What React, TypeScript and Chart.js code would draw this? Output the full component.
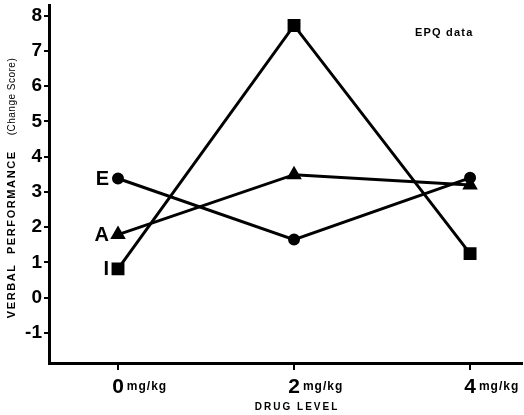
import React, { useEffect, useRef } from "react";
import { Chart, registerables } from "chart.js";

Chart.register(...registerables);

// Drug dose levels (mg/kg) and change scores for the three EPQ groups
const doses = [0, 2, 4];
const scoresI = [0.82, 7.72, 1.25];
const scoresE = [3.38, 1.65, 3.4];
const scoresA = [1.79, 3.49, 3.2];
const seriesNames = ["I", "E", "A"];
const yTickValues = [-1, 0, 1, 2, 3, 4, 5, 6, 7, 8];
const xTickValues = [0, 2, 4];
const unitLabel = "mg/kg";
const yTitleMain = "VERBAL  PERFORMANCE";
const yTitleSub = "(Change Score)";
const xTitle = "DRUG LEVEL";
const noteText = "EPQ data";

const FONT = "'Liberation Sans', Arial, Helvetica, sans-serif";
const X_TICK_LEN = 7;
const X_TICK_PAD = 5;

const annotations = {
  id: "annotations",
  afterDraw(chart: any) {
    const ctx = chart.ctx as CanvasRenderingContext2D;
    const area = chart.chartArea;
    const xs = chart.scales.x;
    ctx.save();
    ctx.fillStyle = "#000";

    // unit suffix after each dose digit
    const digitTop = area.bottom + X_TICK_LEN + X_TICK_PAD;
    ctx.textBaseline = "alphabetic";
    xTickValues.forEach((v) => {
      const px = xs.getPixelForValue(v);
      ctx.font = `bold 21px ${FONT}`;
      (ctx as any).letterSpacing = "0px";
      const w = ctx.measureText(String(v)).width;
      ctx.font = `bold 12px ${FONT}`;
      (ctx as any).letterSpacing = "1px";
      ctx.textAlign = "left";
      ctx.fillText(unitLabel, px + w / 2 + 3, digitTop + 15);
    });

    // x axis title
    ctx.font = `bold 10px ${FONT}`;
    (ctx as any).letterSpacing = "2px";
    ctx.textAlign = "center";
    ctx.textBaseline = "middle";
    ctx.fillText(xTitle, xs.getPixelForValue(2) + 3, 407);

    // note in upper right
    ctx.font = `bold 11px ${FONT}`;
    (ctx as any).letterSpacing = "1.2px";
    ctx.textAlign = "left";
    ctx.fillText(noteText, 415, 33);

    // rotated y axis title
    ctx.save();
    ctx.translate(12, 188);
    ctx.rotate(-Math.PI / 2);
    ctx.textBaseline = "middle";
    ctx.font = `bold 11px ${FONT}`;
    (ctx as any).letterSpacing = "1.6px";
    const wMain = ctx.measureText(yTitleMain).width;
    ctx.font = `10px ${FONT}`;
    (ctx as any).letterSpacing = "0.5px";
    const wSub = ctx.measureText(yTitleSub).width;
    const gap = 15;
    const total = wMain + gap + wSub;
    let sx = -total / 2;
    ctx.textAlign = "left";
    ctx.font = `bold 11px ${FONT}`;
    (ctx as any).letterSpacing = "1.6px";
    ctx.fillText(yTitleMain, sx, 0);
    sx += wMain + gap;
    ctx.font = `10px ${FONT}`;
    (ctx as any).letterSpacing = "0.5px";
    ctx.fillText(yTitleSub, sx, 0);
    ctx.restore();

    // series letters beside the first point of each line
    (ctx as any).letterSpacing = "0px";
    ctx.font = `bold 20px ${FONT}`;
    ctx.textAlign = "right";
    ctx.textBaseline = "middle";
    seriesNames.forEach((name, i) => {
      const pt = chart.getDatasetMeta(i).data[0];
      ctx.fillText(name, pt.x - 9, pt.y + 1);
    });
    ctx.restore();
  },
};

export default function App() {
  const canvasRef = useRef<HTMLCanvasElement | null>(null);

  useEffect(() => {
    if (!canvasRef.current) return;
    const toPoints = (vals: number[]) => doses.map((d, i) => ({ x: d, y: vals[i] }));
    const base = {
      borderColor: "#000",
      backgroundColor: "#000",
      pointBorderColor: "#000",
      pointBackgroundColor: "#000",
      borderWidth: 3,
      tension: 0,
    };
    const chart = new Chart(canvasRef.current, {
      type: "line",
      data: {
        datasets: [
          { ...base, label: seriesNames[0], data: toPoints(scoresI), pointStyle: "rect", pointRadius: 7 },
          { ...base, label: seriesNames[1], data: toPoints(scoresE), pointStyle: "circle", pointRadius: 4.5 },
          { ...base, label: seriesNames[2], data: toPoints(scoresA), pointStyle: "triangle", pointRadius: 6 },
        ],
      },
      options: {
        responsive: false,
        animation: false,
        layout: { autoPadding: false, padding: { top: 5, right: 2, left: 0, bottom: 0 } },
        plugins: { legend: { display: false }, tooltip: { enabled: false } },
        scales: {
          x: {
            type: "linear",
            min: -0.784,
            max: 4.59,
            afterFit: (s: any) => {
              s.height = 52;
              s.paddingLeft = 0;
              s.paddingRight = 0;
            },
            afterBuildTicks: (s: any) => {
              s.ticks = xTickValues.map((v) => ({ value: v }));
            },
            grid: { drawOnChartArea: false, drawTicks: true, tickLength: X_TICK_LEN, color: "#000", lineWidth: 2 },
            border: { display: true, color: "#000", width: 3 },
            ticks: {
              color: "#000",
              font: { family: FONT, size: 21, weight: "bold" },
              padding: X_TICK_PAD,
              maxRotation: 0,
              callback: (v: any) => String(v),
            },
          },
          y: {
            type: "linear",
            min: -1.85,
            max: 8.3,
            afterFit: (s: any) => {
              s.width = 49;
              s.paddingTop = 0;
              s.paddingBottom = 0;
            },
            afterBuildTicks: (s: any) => {
              s.ticks = yTickValues.map((v) => ({ value: v }));
            },
            grid: { drawOnChartArea: false, drawTicks: true, tickLength: 5, color: "#000", lineWidth: 2 },
            border: { display: true, color: "#000", width: 3 },
            ticks: {
              color: "#000",
              font: { family: FONT, size: 19, weight: "bold" },
              padding: 2,
              callback: (v: any) => String(v),
            },
          },
        },
      },
      plugins: [annotations],
    } as any);
    return () => chart.destroy();
  }, []);

  return (
    <div style={{ position: "fixed", left: 0, top: 0, width: 524, height: 415, background: "#fff" }}>
      <canvas ref={canvasRef} width={524} height={415} />
    </div>
  );
}
